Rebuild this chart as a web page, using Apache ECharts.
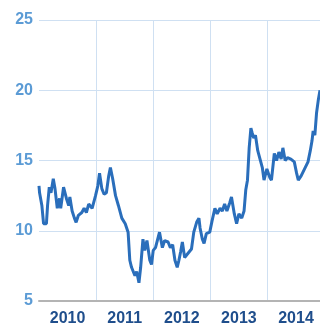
<!DOCTYPE html>
<html><head><meta charset="utf-8">
<script src="https://cdn.jsdelivr.net/npm/echarts@6/dist/echarts.min.js"></script>
<style>html,body{margin:0;padding:0;background:#fff}#c{width:320px;height:333px}</style>
</head><body><div id="c"></div>
<script>
const dates = [2010.00,2010.01,2010.05,2010.08,2010.13,2010.15,2010.18,2010.21,2010.25,2010.28,2010.32,2010.36,2010.38,2010.43,2010.48,2010.52,2010.54,2010.58,2010.62,2010.65,2010.69,2010.75,2010.79,2010.83,2010.87,2010.93,2010.99,2011.03,2011.06,2011.10,2011.14,2011.18,2011.22,2011.25,2011.29,2011.34,2011.39,2011.45,2011.51,2011.56,2011.59,2011.62,2011.65,2011.68,2011.71,2011.75,2011.78,2011.82,2011.85,2011.89,2011.94,2011.97,2012.00,2012.04,2012.11,2012.16,2012.20,2012.26,2012.30,2012.34,2012.38,2012.42,2012.45,2012.48,2012.51,2012.55,2012.61,2012.67,2012.71,2012.76,2012.80,2012.82,2012.86,2012.89,2012.93,2012.99,2013.03,2013.08,2013.12,2013.17,2013.21,2013.25,2013.29,2013.34,2013.37,2013.42,2013.46,2013.50,2013.55,2013.59,2013.62,2013.65,2013.68,2013.71,2013.73,2013.76,2013.79,2013.83,2013.87,2013.91,2013.94,2013.99,2014.01,2014.04,2014.07,2014.12,2014.16,2014.20,2014.24,2014.27,2014.31,2014.35,2014.41,2014.47,2014.51,2014.54,2014.59,2014.65,2014.71,2014.75,2014.78,2014.80,2014.83,2014.86,2014.89,2014.92];
const values = [13.2,12.7,11.8,10.5,10.5,11.8,13.1,12.7,13.7,13.0,11.6,12.3,11.6,13.1,12.3,11.8,12.4,11.4,10.9,10.6,11.1,11.3,11.6,11.3,11.9,11.6,12.5,13.2,14.1,13.0,12.6,12.7,13.9,14.5,13.7,12.5,11.8,10.9,10.5,9.9,7.9,7.4,7.5,6.8,7.1,6.3,7.4,9.4,8.6,9.3,7.9,7.6,8.6,8.8,9.9,8.8,9.3,9.2,8.8,9.0,7.9,7.4,7.9,8.5,9.2,8.1,8.4,8.7,9.9,10.6,10.9,10.2,9.4,9.1,9.8,9.9,10.7,11.6,11.2,11.6,11.4,11.9,11.4,12.0,12.4,11.2,10.5,11.2,10.9,11.4,12.9,13.6,15.9,17.3,17.0,16.6,16.8,15.7,15.1,14.5,13.6,14.4,14.5,13.8,13.6,15.5,15.0,15.6,15.1,15.9,15.0,15.2,15.1,14.9,14.1,13.6,13.9,14.4,14.9,15.7,16.4,17.1,16.8,18.4,19.3,20.0];
const yearLabels = [2010,2011,2012,2013,2014];
const yTicks = [5,10,15,20,25];

const chart = echarts.init(document.getElementById('c'), null, {renderer:'canvas'});
chart.setOption({
  animation:false,
  grid:{left:39,right:0,top:20,bottom:32,containLabel:false},
  xAxis:{type:'value',min:2010,max:2014.92,interval:1,
    axisLine:{show:true,lineStyle:{color:'#b4b4b4',width:2}},
    axisTick:{show:false},
    splitLine:{show:true,showMinLine:false,showMaxLine:false,lineStyle:{color:'#cfe0f2',width:1}},
    axisLabel:{customValues:yearLabels.map(y=>y+0.5),formatter:v=>String(Math.floor(v)),
      color:'#1f4e8c',fontWeight:'bold',fontSize:16,fontFamily:'Liberation Sans, Arial',margin:10}},
  yAxis:{type:'value',min:yTicks[0],max:yTicks[yTicks.length-1],interval:5,
    axisLine:{show:false},axisTick:{show:false},
    splitLine:{show:true,lineStyle:{color:'#cfe0f2',width:1}},
    axisLabel:{color:'#5b9bd5',fontWeight:'bold',fontSize:16,fontFamily:'Liberation Sans, Arial',margin:6}},
  series:[{type:'line',data:dates.map((d,i)=>[d,values[i]]),showSymbol:false,
    lineStyle:{color:'#2a6ebb',width:3},clip:true}]
});
</script></body></html>
